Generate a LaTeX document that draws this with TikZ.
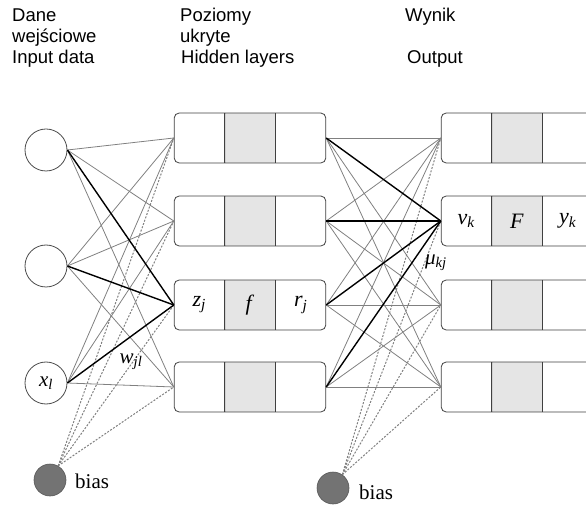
\documentclass[tikz,border=0pt]{standalone}
\usepackage{fontspec}
\setmainfont{Liberation Serif}
\newfontfamily\headfont{Liberation Sans}
\usetikzlibrary{shapes.multipart}

\newcommand{\symb}[2]{\textit{#1}\textsubscript{\textit{#2}}}

\tikzset{
  neuron/.style={circle, draw=black!70, line width=0.8pt, minimum size=42pt,
                 inner sep=0pt, font=\fontsize{21}{24}\selectfont},
  biasnode/.style={circle, fill=black!55, draw=black!65, line width=0.6pt,
                   minimum size=32pt, inner sep=0pt},
  layerbox/.style={rectangle split, rectangle split horizontal,
                   rectangle split parts=3, draw=black!75, line width=0.8pt,
                   rounded corners=5pt, text width=50pt, inner xsep=0pt,
                   inner ysep=0pt, minimum height=50pt, align=center,
                   rectangle split part fill={white,black!10,white},
                   font=\fontsize{22}{24}\selectfont},
  conn/.style={draw=black!50, line width=0.8pt},
  boldconn/.style={draw=black, line width=1.4pt},
  biasconn/.style={draw=black!50, line width=1pt, dash pattern=on 2pt off 1.5pt},
  head/.style={font=\headfont\fontsize{18.5}{21}\selectfont, anchor=base west,
               inner sep=0pt},
  lbl/.style={font=\fontsize{21}{24}\selectfont, inner sep=0pt}
}

\begin{document}
\begin{tikzpicture}[x=1pt, y=-1pt]
\useasboundingbox (0,0) rectangle (586,510);
\clip (0,0) rectangle (586,510);

% headers
\node[head] (dane)   at (12,22)  {Dane};
\node[head] (wejsc)  at (12,43)  {wejściowe};
\node[head] (input)  at (12,64)  {Input data};
\node[head] (poziom) at (180,22) {Poziomy};
\node[head] (ukryte) at (180,43) {ukryte};
\node[head] (hidden) at (181,64) {Hidden layers};
\node[head] (wynik)  at (405,22) {Wynik};
\node[head] (output) at (407,64) {Output};

% input layer
\node[neuron] (in1) at (46,150) {};
\node[neuron] (in2) at (46,266) {};
\node[neuron] (in3) at (46,383) {\symb{x}{l}};
\node[biasnode] (bias1) at (50,480) {};
\node[lbl, anchor=base west] (biastxt1) at (75,488) {bias};

% hidden layer
\node[layerbox] (h1) at (250,138) {\nodepart{two}\nodepart{three}};
\node[layerbox] (h2) at (250,221) {\nodepart{two}\nodepart{three}};
\node[layerbox] (h3) at (250,305) {\symb{z}{j}\nodepart{two}\textit{f}\nodepart{three}\symb{r}{j}};
\node[layerbox] (h4) at (250,387) {\nodepart{two}\nodepart{three}};
\node[biasnode] (bias2) at (333,488) {};
\node[lbl, anchor=base west] (biastxt2) at (359,499) {bias};

% output layer
\node[layerbox] (o1) at (517,138) {\nodepart{two}\nodepart{three}};
\node[layerbox] (o2) at (517,221) {\symb{v}{k}\nodepart{two}\textit{F}\nodepart{three}\symb{y}{k}};
\node[layerbox] (o3) at (517,305) {\nodepart{two}\nodepart{three}};
\node[layerbox] (o4) at (517,387) {\nodepart{two}\nodepart{three}};

% input -> hidden
\draw[conn] (in1.east) -- (h1.west);
\draw[conn] (in1.east) -- (h2.west);
\draw[conn] (in1.east) -- (h4.west);
\draw[conn] (in2.east) -- (h1.west);
\draw[conn] (in2.east) -- (h2.west);
\draw[conn] (in2.east) -- (h4.west);
\draw[conn] (in3.east) -- (h1.west);
\draw[conn] (in3.east) -- (h2.west);
\draw[conn] (in3.east) -- (h4.west);
\draw[biasconn] (bias1.60) -- (h1.west);
\draw[biasconn] (bias1.60) -- (h2.west);
\draw[biasconn] (bias1.60) -- (h3.west);
\draw[biasconn] (bias1.60) -- (h4.west);
\draw[boldconn] (in1.east) -- (h3.west);
\draw[boldconn] (in2.east) -- (h3.west);
\draw[boldconn] (in3.east) -- (h3.west);

% hidden -> output
\draw[conn] (h1.east) -- (o1.west);
\draw[conn] (h1.east) -- (o3.west);
\draw[conn] (h1.east) -- (o4.west);
\draw[conn] (h2.east) -- (o1.west);
\draw[conn] (h2.east) -- (o3.west);
\draw[conn] (h2.east) -- (o4.west);
\draw[conn] (h3.east) -- (o1.west);
\draw[conn] (h3.east) -- (o3.west);
\draw[conn] (h3.east) -- (o4.west);
\draw[conn] (h4.east) -- (o1.west);
\draw[conn] (h4.east) -- (o3.west);
\draw[conn] (h4.east) -- (o4.west);
\draw[biasconn] (bias2.55) -- (o1.west);
\draw[biasconn] (bias2.55) -- (o2.west);
\draw[biasconn] (bias2.55) -- (o3.west);
\draw[biasconn] (bias2.55) -- (o4.west);
\draw[boldconn] (h1.east) -- (o2.west);
\draw[boldconn] (h2.east) -- (o2.west);
\draw[boldconn] (h3.east) -- (o2.west);
\draw[boldconn] (h4.east) -- (o2.west);

% weights
\node[lbl] (wjl) at (131,362) {\symb{w}{jl}};
\node[lbl] (ukj) at (436,263) {\symb{μ}{kj}};

\end{tikzpicture}
\end{document}
